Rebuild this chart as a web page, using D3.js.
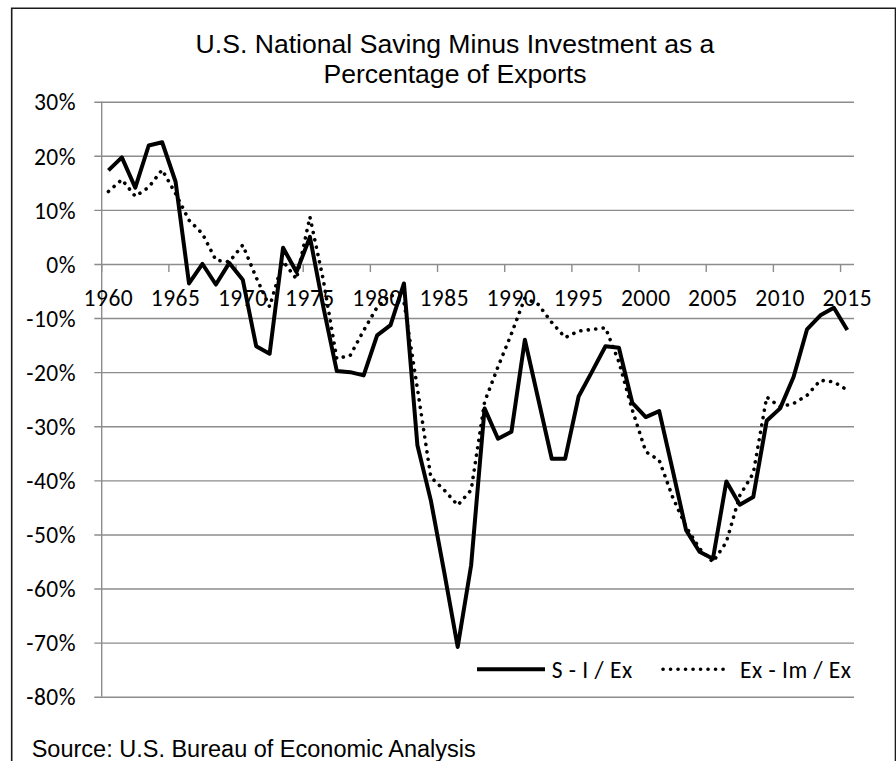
<!DOCTYPE html>
<html>
<head>
<meta charset="utf-8">
<script src="https://cdn.jsdelivr.net/npm/d3@7"></script>
<style>
  html, body { margin: 0; padding: 0; background: #fff; }
  svg { display: block; }
</style>
</head>
<body>
<div id="chart"></div>
<script>
// ── Data ────────────────────────────────────────────────────────────────────
const years = [
  1960, 1961, 1962, 1963, 1964, 1965, 1966, 1967, 1968, 1969,
  1970, 1971, 1972, 1973, 1974, 1975, 1976, 1977, 1978, 1979,
  1980, 1981, 1982, 1983, 1984, 1985, 1986, 1987, 1988, 1989,
  1990, 1991, 1992, 1993, 1994, 1995, 1996, 1997, 1998, 1999,
  2000, 2001, 2002, 2003, 2004, 2005, 2006, 2007, 2008, 2009,
  2010, 2011, 2012, 2013, 2014, 2015
];
// S - I / Ex, in %
const savingMinusInvestment = [
  17.3, 19.7, 14.1, 21.9, 22.5, 15.2, -3.6, 0.0, -3.8, 0.2,
  -2.9, -15.2, -16.6, 3.0, -1.5, 5.0, -8.0, -19.8, -20.0, -20.6,
  -13.2, -11.3, -3.6, -33.5, -43.7, -57.0, -70.8, -55.7, -26.7, -32.3,
  -31.0, -14.0, -25.0, -36.0, -36.0, -24.5, -19.9, -15.2, -15.5, -25.7,
  -28.3, -27.2, -38.1, -49.2, -53.2, -54.5, -40.2, -44.5, -43.1, -29.0,
  -26.7, -20.9, -12.1, -9.5, -8.1, -12.2
];
// Ex - Im / Ex, in %
const netExports = [
  13.4, 15.6, 12.5, 14.2, 17.4, 13.0, 8.1, 5.6, 0.7, 0.4,
  3.5, -2.5, -7.9, 0.5, -2.8, 8.7, -3.0, -17.5, -16.9, -12.3,
  -8.0, -5.7, -7.0, -23.0, -39.4, -41.8, -44.6, -41.8, -25.5, -19.0,
  -12.9, -6.3, -7.5, -10.8, -13.6, -12.4, -12.1, -11.8, -18.1, -27.0,
  -34.7, -36.3, -43.1, -48.6, -52.6, -55.1, -51.4, -42.8, -38.7, -24.6,
  -26.4, -25.8, -24.3, -21.5, -21.8, -23.3
];
const yTicks = [30, 20, 10, 0, -10, -20, -30, -40, -50, -60, -70, -80];
const xLabelYears = [1960, 1965, 1970, 1975, 1980, 1985, 1990, 1995, 2000, 2005, 2010, 2015];
const seriesNames = ['S - I / Ex', 'Ex - Im / Ex'];

// ── Layout ──────────────────────────────────────────────────────────────────
const W = 896, H = 761;
const PLOT = { left: 101.7, right: 854, top: 101.7, bottom: 696.7 };
const AXIS_FONT = 'Carlito, Lato, sans-serif';
const AXIS_SIZE = 23.5, AXIS_SPACING = 0.5;
const TEXT_FONT = '"Liberation Sans", Arial, sans-serif';
const GRID = '#8c8c8c';

const svg = d3.select('#chart').append('svg')
  .attr('width', W).attr('height', H).attr('viewBox', `0 0 ${W} ${H}`);

// frame round the chart (runs off the bottom of the picture)
svg.append('path')
  .attr('d', `M11.7,${H} V8.3 H895.5 V${H}`)
  .attr('fill', 'none').attr('stroke', '#1a1a1a').attr('stroke-width', 1.6);

const x = d3.scaleBand().domain(years).range([PLOT.left, PLOT.right]).paddingInner(0).paddingOuter(0);
const y = d3.scaleLinear().domain([-80, 30]).range([PLOT.bottom, PLOT.top]);
const cx = yr => x(yr) + x.bandwidth() / 2;

const axisText = sel => sel
  .attr('font-family', AXIS_FONT).attr('font-size', AXIS_SIZE)
  .attr('letter-spacing', AXIS_SPACING).attr('fill', '#000');

// horizontal gridlines + y-axis labels
const yAxis = d3.axisLeft(y).tickValues(yTicks)
  .tickSize(-(PLOT.right - PLOT.left)).tickPadding(18)
  .tickFormat(d => `${d}%`);
const gy = svg.append('g').attr('transform', `translate(${PLOT.left},0)`).call(yAxis);
gy.select('.domain').remove();
gy.selectAll('.tick line').attr('stroke', GRID).attr('stroke-width', 1.4).attr('x1', -7.4);
gy.selectAll('.tick text').call(axisText)
  .attr('x', 76 - PLOT.left).attr('dy', '0.35em');

// vertical axis line
svg.append('line')
  .attr('x1', PLOT.left).attr('x2', PLOT.left)
  .attr('y1', PLOT.top).attr('y2', PLOT.bottom)
  .attr('stroke', GRID).attr('stroke-width', 1.4);

// category axis sits on the 0% line; ticks fall between categories
const gx = svg.append('g').attr('transform', `translate(0,${y(0)})`);
gx.selectAll('line.tick').data(xLabelYears).join('line')
  .attr('class', 'tick')
  .attr('x1', d => x(d)).attr('x2', d => x(d))
  .attr('y1', 0).attr('y2', 8)
  .attr('stroke', GRID).attr('stroke-width', 1.4);
gx.selectAll('text').data(xLabelYears).join('text')
  .attr('x', d => cx(d)).attr('y', 42)
  .attr('text-anchor', 'middle')
  .call(axisText)
  .text(d => d);

// the two series
const line = d3.line().x((d, i) => cx(years[i])).y(d => y(d));

svg.append('path').datum(netExports)
  .attr('d', line).attr('fill', 'none')
  .attr('stroke', '#000').attr('stroke-width', 3.6)
  .attr('stroke-linecap', 'round').attr('stroke-dasharray', '0.1 7.4');

svg.append('path').datum(savingMinusInvestment)
  .attr('d', line).attr('fill', 'none')
  .attr('stroke', '#000').attr('stroke-width', 4)
  .attr('stroke-linejoin', 'round');

// title
const title = svg.append('text')
  .attr('text-anchor', 'middle').attr('font-family', TEXT_FONT)
  .attr('font-size', 26.6).attr('fill', '#000');
title.append('tspan').attr('x', 455).attr('y', 53.3).text('U.S. National Saving Minus Investment as a');
title.append('tspan').attr('x', 455).attr('y', 83.3).text('Percentage of Exports');

// legend
const legendY = 669.3;
const legend = svg.append('g');
legend.append('line')
  .attr('x1', 477).attr('x2', 545).attr('y1', legendY).attr('y2', legendY)
  .attr('stroke', '#000').attr('stroke-width', 4);
legend.append('text')
  .attr('x', 551.7).attr('y', legendY).attr('dy', '0.35em')
  .call(axisText).text(seriesNames[0]);
legend.append('line')
  .attr('x1', 663).attr('x2', 730).attr('y1', legendY).attr('y2', legendY)
  .attr('stroke', '#000').attr('stroke-width', 3.6)
  .attr('stroke-linecap', 'round').attr('stroke-dasharray', '0.1 7.4');
legend.append('text')
  .attr('x', 740).attr('y', legendY).attr('dy', '0.35em')
  .call(axisText).text(seriesNames[1]);

// source note
svg.append('text')
  .attr('x', 31.7).attr('y', 757.3)
  .attr('font-family', TEXT_FONT).attr('font-size', 23.5).attr('fill', '#000')
  .text('Source: U.S. Bureau of Economic Analysis');
</script>
</body>
</html>
